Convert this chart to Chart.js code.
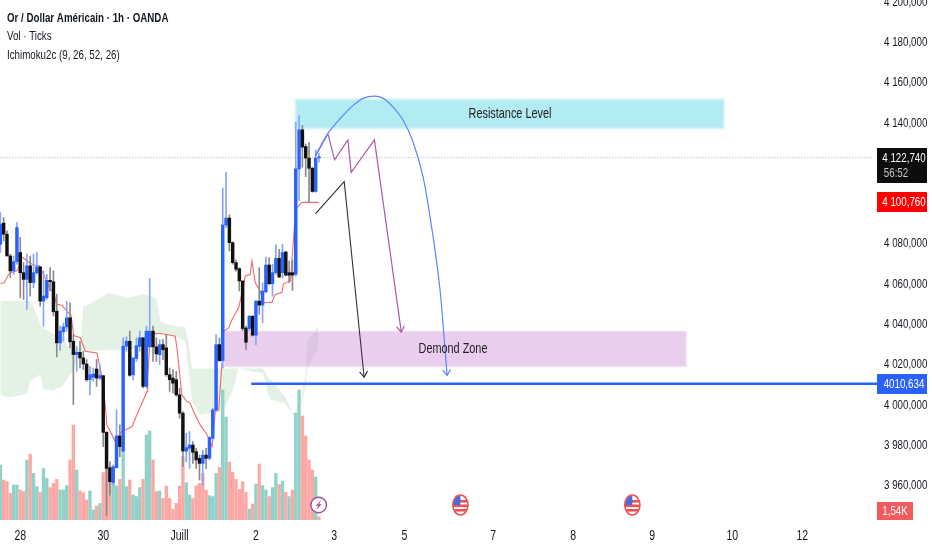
<!DOCTYPE html>
<html><head><meta charset="utf-8">
<style>html,body{margin:0;padding:0;background:#fff}canvas{display:block}</style>
<script src="https://cdn.jsdelivr.net/npm/chart.js@4"></script>
</head><body><canvas id="c" width="932" height="550"></canvas>
<script>
const opens=[4079.8,4090.3,4084.8,4074.0,4066.6,4071.2,4075.7,4065.7,4062.4,4069.1,4060.8,4065.7,4068.6,4051.6,4053.3,4061.9,4061.2,4046.6,4030.9,4036.4,4038.8,4043.3,4031.7,4025.1,4026.2,4023.4,4020.4,4012.6,4013.8,4017.9,4013.4,4014.6,3986.5,3968.9,3961.6,3969.0,3984.7,3977.2,4029.2,4031.7,4015.1,4023.1,4029.2,4033.4,4009.3,4028.9,4036.7,4028.9,4025.0,4030.0,4028.4,4015.1,4013.4,4012.6,4005.1,3996.0,3977.2,3978.6,3980.2,3976.9,3973.6,3971.1,3975.2,3973.6,3983.5,3997.6,4030.0,4022.1,4089.4,4092.8,4080.6,4070.7,4067.7,4061.6,4038.3,4038.0,4044.1,4034.7,4051.6,4049.6,4056.2,4069.5,4060.2,4065.7,4072.8,4065.7,4076.0,4065.7,4065.7,4064.9,4117.2,4136.6,4128.3,4122.6,4117.5,4106.0,4122.7];
const closes=[4089.8,4084.8,4074.0,4066.6,4071.2,4088.1,4065.7,4062.4,4069.1,4060.8,4065.7,4068.6,4051.6,4054.1,4061.9,4061.2,4046.3,4030.9,4036.7,4038.8,4043.3,4031.4,4025.1,4026.2,4023.4,4020.4,4012.6,4015.1,4015.4,4013.4,4014.6,3986.5,3968.6,3962.0,3969.4,3984.7,3979.4,4029.2,4031.7,4014.8,4023.4,4029.5,4033.4,4009.3,4036.7,4036.7,4028.9,4025.4,4030.0,4027.5,4015.1,4012.6,4010.9,4005.1,3996.0,3977.2,3978.9,3980.2,3976.6,3972.8,3971.1,3975.2,3973.6,3983.9,3997.6,4030.0,4022.1,4089.4,4092.8,4080.6,4070.7,4067.4,4061.6,4038.0,4031.2,4044.1,4034.7,4051.6,4049.6,4056.6,4069.5,4060.2,4065.7,4072.8,4063.6,4075.7,4064.5,4064.5,4064.5,4117.2,4136.6,4128.0,4122.6,4117.5,4106.0,4122.6,4122.74];
const highs=[4095.6,4093.1,4086.5,4074.9,4074.0,4090.6,4083.2,4070.7,4074.9,4074.0,4074.9,4075.7,4068.6,4066.6,4064.9,4068.2,4066.6,4055.0,4039.2,4040.8,4051.6,4050.8,4035.0,4029.2,4031.7,4026.7,4022.6,4019.2,4018.4,4022.6,4020.1,4014.6,3986.9,3971.9,3970.3,3997.7,3990.2,4033.4,4033.9,4036.7,4023.4,4033.4,4036.7,4033.4,4039.2,4062.9,4039.2,4033.4,4032.5,4032.5,4035.0,4018.4,4017.6,4016.7,4008.4,3996.8,3986.0,3986.9,3981.9,3978.6,3975.2,3977.7,3978.6,3984.4,3998.5,4035.0,4033.3,4107.7,4115.5,4094.4,4081.1,4071.9,4068.2,4061.6,4039.2,4044.5,4044.5,4051.9,4068.2,4060.7,4073.5,4073.2,4069.9,4079.5,4077.3,4079.8,4076.2,4071.5,4071.9,4140.4,4143.7,4138.8,4129.6,4130.4,4118.0,4126.6,4125.0];
const lows=[4075.7,4081.5,4074.0,4063.2,4064.9,4069.9,4053.3,4052.4,4047.5,4054.1,4058.3,4064.9,4049.1,4039.2,4052.4,4056.6,4044.2,4023.9,4027.1,4031.7,4036.7,4028.4,4000.2,4016.8,4018.4,4017.6,4011.8,4005.1,4011.8,4009.3,4012.6,3979.4,3945.0,3955.3,3960.3,3968.6,3974.4,3976.9,4026.7,4014.3,4012.6,4021.7,4026.7,4008.5,4008.5,4028.4,4021.7,4021.7,4020.1,4022.5,4014.3,4006.8,4006.0,4004.3,3993.5,3969.4,3971.9,3968.6,3971.1,3968.6,3962.8,3960.3,3968.6,3972.8,3983.2,3996.8,4021.7,4018.4,4088.1,4076.5,4069.9,4066.5,4056.6,4036.7,4027.5,4036.7,4034.2,4030.0,4045.0,4040.8,4055.8,4059.9,4054.1,4064.9,4063.2,4063.2,4064.1,4060.7,4056.9,4064.0,4101.4,4118.0,4113.4,4100.6,4105.6,4105.6,4120.5];
const volumes=[27.5,20,19.2,13.3,17.5,17.5,15,14.2,30,33,23.3,16.7,13.7,25.8,20.8,16.2,18.3,20.3,15,15,17.2,30,47.5,25,14.5,13.7,10,14.5,5,7,8.3,23.7,26.7,26.7,18.3,17,20.3,35,16.7,20,12.5,11.7,16.2,20.3,42.5,44.5,30,14.2,14.5,10.8,17,10.8,5.5,8.3,17,31.7,18.7,12.5,10.8,17,18.3,23.3,15,12.2,11.7,23.3,26.3,65,51.5,29,23.8,20.3,15.3,19.2,13.8,5.5,8,18,28,17.2,15,11.7,16.2,23.3,17.8,19.5,13.8,11.7,15,53.5,65,52,42,30,25,21.5,1.54];
const volumeUp=[1,0,0,0,1,1,0,0,1,0,1,1,0,1,1,0,0,0,1,1,1,0,0,1,0,0,0,1,1,0,1,0,0,0,1,1,0,1,1,0,1,1,1,0,1,1,0,0,1,0,0,0,0,0,0,0,1,1,0,0,0,0,0,1,1,1,0,1,1,0,0,0,0,0,0,1,0,1,0,1,1,0,1,1,0,1,0,1,0,1,1,0,0,0,0,1,0];

const redX=[0,1.2,2.5,3,5,5.5,6.5,8.5,10,11.8,12.5,14,15,16,16.9,18.6,20,21.3,22.1,24.1,25.6,29.1,30.6,31.6,32.1,34.6,36.6,37.7,39.7,40.7,44.2,44.4,45.2,48.2,50.2,52.7,53.2,54.7,56.2,57.2,58.2,60.2,62.3,63.8,64.8,65.8,66.8,67.3,68.8,69.8,71.8,72.8,73.8,75.3,75.8,76.8,78.3,79.3,81.8,82.8,84.8,85.3,87.4,88.4,88.9,90.9,95.9];
const redY=[4060.3,4060.7,4064.9,4065.7,4066.6,4068.2,4073.5,4071,4069.5,4069.2,4066.6,4061.6,4057.4,4056.6,4050,4049.6,4046.6,4044.6,4034.5,4033.4,4026.7,4025.9,4014.3,4000.2,3990.2,3981.9,3986.9,3987.7,3989.4,3993.5,4006.8,4013.4,4035.5,4035.5,4035,4034.2,4028.4,4005.1,4001.8,4001,3996.8,3990.2,3985.2,3979.4,3997.6,3997.6,4021.7,4036.7,4038.3,4042.5,4048.3,4055.8,4064,4064.9,4071.5,4060.7,4056.6,4050.8,4051.1,4054.9,4055.8,4060.2,4061.6,4084,4097.2,4100.6,4100.6];

const cloudX=[0,3,8.1,9,9.9,12,13,15.7,18.7,21.7,24.1,25,26.5,30.1,32.5,34.6,38.3,43,47,48.2,51.2,55.7,56.6,57.8,60.2,62.3,66.3,67.8,70.2,71.7,79.2,80.4,81.3,85.8,88.3,90.4,91.9,92.5,95.8];
const cloudTop=[4051.6,4051.6,4051.6,4051.6,4049.1,4040.1,4038.2,4035.7,4033.2,4026.7,4028.2,4049.1,4050.1,4053.1,4055.6,4055.1,4053.1,4055.1,4053.1,4041.6,4039.6,4038.7,4031.7,4018.2,4018.2,4018.2,4018.2,4018.2,4018.2,4018.2,4018.2,4014.3,4012.8,4004.3,3995.3,4001.8,4014.3,4031.7,4039.1];
const cloudBottom=[4005.3,4003.8,4005.8,4011.8,4012.8,4015.2,4007.8,4007.3,4009.3,4016.7,4026.7,4026.7,4026.7,4027.2,4027.2,4027.2,4027.2,4029.2,4034.2,4035.7,4035.2,4031.7,4018.2,4001.8,3995.3,3995.8,3996.8,3999.3,4008.3,4018.2,4015.7,4006.8,4002.8,4000.8,3994.8,3999.3,4008.3,4018.2,4028.2];

const curveX=[94.9,98.7,102.4,106.3,109.3,112.7,115.4,118.4,121.4,124.4,127.4,129.5,132.5,134.6];
const curveY=[4123.8,4134.8,4142.2,4148.7,4152.2,4153.3,4152.2,4147.7,4141.2,4130.3,4112.9,4092.9,4056.6,4014.7];
const zigzagX=[95,98.7,100.7,104.7,105.7,112.7,120.8];
const zigzagY=[4123.8,4134.6,4121.7,4131.6,4115.5,4131.6,4036.2];
const blackX=[94.9,103.6,109.6];
const blackY=[4094.9,4110.9,4013.8];

const resistanceX=[88.9,218];const resistanceY=[4151.7,4137.3];
const demandX=[67.5,206.6];const demandY=[4036.7,4019.2];
const supportStart=75.6, supportPrice=4010.634;
const lastPrice=4122.74, redPrice=4100.76;

const xTickPos=[6,31,54,77,100.6,121.7,148.5,172.6,196.4,220.5,241.6];
const xTickLabels=['28','30','Juill','2','3','5','7','8','9','10','12'];
const hiddenPriceTicks=[4120,4100];
const boltEvent=95.9;const flagEvents=[138.6,190.4];

const BLUE='#2962ff',BLACK='#111111';
const face='"Liberation Sans",sans-serif';
const xy=(xs,ys)=>xs.map((x,i)=>({x,y:ys[i]}));
const box=(xs,ys)=>[{x:xs[0],y:ys[0]},{x:xs[1],y:ys[0]},{x:xs[1],y:ys[1]},{x:xs[0],y:ys[1]},{x:xs[0],y:ys[0]}];
const up=opens.map((o,i)=>closes[i]>=o);
const line=(o)=>Object.assign({type:'line',pointRadius:0,fill:false,tension:0},o);

// the reference uses a condensed face: narrow every label horizontally
const cv=document.getElementById('c');const ctx0=cv.getContext('2d');
const rawFill=ctx0.fillText;
ctx0.fillText=function(t,x,y,m){this.save();this.translate(x,y);this.scale(0.75,1);rawFill.call(this,t,0,0);this.restore();};

const overlay={id:'overlay',afterDraw(ch){
  const c=ch.ctx,X=ch.scales.x,Y=ch.scales.y;
  c.save();c.textBaseline='middle';c.textAlign='left';
  c.fillStyle='#131722';
  c.font='bold 13px '+face;c.fillText('Or / Dollar Américain · 1h · OANDA',7,18);
  c.font='13px '+face;c.fillText('Vol · Ticks',7,36);c.fillText('Ichimoku2c (9, 26, 52, 26)',7,55);
  c.textAlign='center';
  c.font='14.5px '+face;c.fillStyle='#222';
  c.fillText('Resistance Level',510,Y.getPixelForValue((resistanceY[0]+resistanceY[1])/2));
  c.fillText('Demond Zone',453,Y.getPixelForValue((demandY[0]+demandY[1])/2));
  const ds=ch.data.datasets;
  [['curve','#5b86ff'],['zigzag','#ab5aa6'],['black','#333']].forEach(([n,col])=>{
    const pts=ch.getDatasetMeta(ds.findIndex(d=>d.label===n)).data,p=pts[pts.length-1],q=pts[pts.length-2];
    const a=Math.atan2(p.y-q.y,p.x-q.x);
    c.strokeStyle=col;c.lineWidth=1.2;c.beginPath();
    c.moveTo(p.x+7*Math.cos(a+2.55),p.y+7*Math.sin(a+2.55));c.lineTo(p.x,p.y);c.lineTo(p.x+7*Math.cos(a-2.55),p.y+7*Math.sin(a-2.55));c.stroke();
  });
  const badge=(val,bg,h,txt)=>{const y=Math.round(Y.getPixelForValue(val));c.fillStyle=bg;c.fillRect(877,y-10,50,h);
    c.fillStyle='#fff';c.textAlign='center';c.font='13px '+face;c.fillText(txt,904,y);};
  badge(lastPrice,'#0d0d0d',35,'4 122,740');
  c.fillStyle='#c8c8c8';c.font='13px '+face;c.fillText('56:52',896,173);
  badge(redPrice,'#ff0000',20,'4 100,760');
  badge(supportPrice,BLUE,20,'4010,634');
  c.fillStyle='#f15b5f';c.fillRect(877,502,36,18);
  c.fillStyle='#fff';c.font='13px '+face;c.fillText('1,54K',895,511);
  const bx=X.getPixelForValue(boltEvent),by=505;
  c.beginPath();c.arc(bx,by,7.8,0,7);c.fillStyle='#fff';c.fill();c.lineWidth=1.4;c.strokeStyle='#a24ca0';c.stroke();
  c.fillStyle='#a24ca0';c.beginPath();c.moveTo(bx+2.4,by-5);c.lineTo(bx-3,by+1);c.lineTo(bx-.3,by+.8);c.lineTo(bx-2.2,by+5);c.lineTo(bx+3,by-1);c.lineTo(bx+.4,by-.8);c.closePath();c.fill();
  flagEvents.forEach(e=>{const fx=X.getPixelForValue(e),fy=505;
    c.save();c.beginPath();c.ellipse(fx,fy,7.6,10,0,0,7);c.fillStyle='#fff';c.fill();c.clip();
    c.fillStyle='#ef5350';for(const s of[-5,-.5,4]){c.fillRect(fx-8,fy+s,16,2.6);}
    c.fillStyle='#3f6fe8';c.fillRect(fx-8,fy-10,8,10);
    c.restore();
    c.beginPath();c.ellipse(fx,fy,7.6,10,0,0,7);c.strokeStyle='#ef5350';c.lineWidth=1.6;c.stroke();});
  c.restore();
}};

new Chart(cv,{
  type:'bar',
  data:{datasets:[
    line({label:'cloudTop',data:xy(cloudX,cloudTop),borderWidth:0,fill:'+1',backgroundColor:'rgba(67,160,71,0.14)',order:10}),
    line({label:'cloudBottom',data:xy(cloudX,cloudBottom),borderWidth:0,order:10}),
    line({label:'demand',data:box(demandX,demandY),fill:'shape',backgroundColor:'rgba(206,147,216,0.45)',borderColor:'rgba(240,225,243,0.9)',borderWidth:1.5,order:9}),
    line({label:'resistance',data:box(resistanceX,resistanceY),fill:'shape',backgroundColor:'#b2ebf2',borderColor:'#d6f5f8',borderWidth:2,order:9}),
    {type:'bar',label:'volume',yAxisID:'v',data:xy(opens.map((_,i)=>i),volumes),backgroundColor:volumeUp.map(u=>u?'#91d2c8':'#fca9a6'),barThickness:2.7,grouped:false,borderWidth:0,order:8},
    line({label:'last',data:xy([0,263],[lastPrice,lastPrice]),borderColor:'#a8a8a8',borderWidth:1,borderDash:[1,2],order:7}),
    line({label:'tenkan',data:xy(redX,redY),borderColor:'#f4696e',borderWidth:1.1,order:6}),
    {type:'bar',label:'wicks',data:opens.map((_,i)=>({x:i,y:[lows[i],highs[i]]})),backgroundColor:up.map(u=>u?'#86a4fb':'#8a8a8a'),barThickness:1,grouped:false,borderWidth:0,order:5},
    {type:'bar',label:'bodies',data:opens.map((o,i)=>({x:i,y:[o,closes[i]]})),backgroundColor:up.map(u=>u?BLUE:BLACK),barThickness:2.8,grouped:false,borderWidth:0,minBarLength:1,order:4},
    line({label:'black',data:xy(blackX,blackY),borderColor:'#333',borderWidth:1.1,order:3}),
    line({label:'zigzag',data:xy(zigzagX,zigzagY),borderColor:'#ab5aa6',borderWidth:1.2,order:3}),
    line({label:'curve',data:xy(curveX,curveY),borderColor:'#5b86ff',borderWidth:1.2,cubicInterpolationMode:'monotone',order:2}),
    line({label:'support',data:xy([supportStart,265],[supportPrice,supportPrice]),borderColor:BLUE,borderWidth:2.4,clip:false,order:1})
  ]},
  plugins:[overlay],
  options:{
    responsive:false,animation:false,
    layout:{padding:0},
    plugins:{legend:{display:false},tooltip:{enabled:false},title:{display:false}},
    scales:{
      x:{type:'linear',min:-0.1,max:262.6,offset:false,grid:{display:false,drawTicks:false},border:{display:false},
        afterBuildTicks(a){a.ticks=xTickPos.map(value=>({value}));},
        afterFit(a){a.height=30;a.paddingLeft=0;a.paddingRight=0;},
        ticks:{autoSkip:false,maxRotation:0,padding:8,color:'#131722',font:{family:face,size:14},
          callback(v){return xTickLabels[xTickPos.indexOf(v)];}}},
      y:{position:'right',min:3943,max:4201,grid:{display:false,drawTicks:false},border:{display:false},
        afterBuildTicks(a){a.ticks=a.ticks.filter(t=>!hiddenPriceTicks.includes(t.value));},
        afterFit(a){a.width=60;a.paddingTop=0;a.paddingBottom=0;},
        ticks:{stepSize:20,includeBounds:false,padding:12,color:'#131722',font:{family:face,size:13},
          callback(v){const s=String(v);return s[0]+' '+s.slice(1)+',000';}}},
      v:{display:false,min:0,max:260}
    }
  }
});
</script></body></html>
